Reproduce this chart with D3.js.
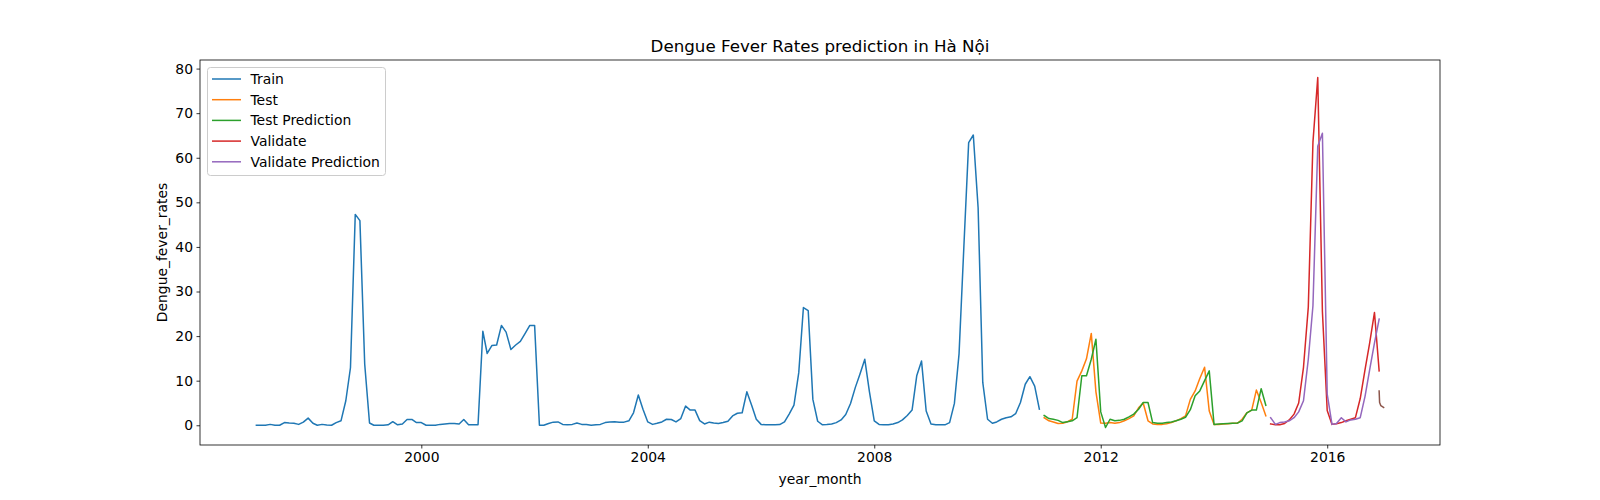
<!DOCTYPE html>
<html>
<head>
<meta charset="utf-8">
<script src="https://cdn.jsdelivr.net/npm/d3@7"></script>
<style>
  body { margin: 0; background: #fff; }
  svg { display: block; font-family: "DejaVu Sans", sans-serif; }
</style>
</head>
<body>
<script>
// monthly series (first month of each block)
const trainStart = new Date(1997, 1, 1);
const testStart = new Date(2011, 0, 1);
const validateStart = new Date(2015, 0, 1);

const trainValues = [
  0, 0, 0, 0.2, 0, 0, 0.6, 0.5, 0.45, 0.2, 0.7, 1.6, 0.45, 0, 0.2, 0.05, 0, 0.6, 1.0, 5.5, 12.9,
  47.3, 45.9, 13.7,
  0.5, 0, 0, 0, 0.1, 0.8, 0.1, 0.3, 1.3, 1.3, 0.6, 0.6, 0, 0, 0, 0.2, 0.3, 0.4, 0.4, 0.3, 1.3, 0.1, 0.1, 0.1,
  21.1, 16.1, 17.9, 18.0, 22.4, 20.9, 17.0, 18.0, 18.8, 20.6, 22.4, 22.4,
  0, 0, 0.4, 0.7, 0.75, 0.2, 0.1, 0.2, 0.5, 0.2, 0.15, 0, 0.1, 0.2, 0.6, 0.75, 0.8, 0.7, 0.7, 1.0,
  2.8, 6.8, 3.6, 0.75, 0.2, 0.45, 0.75, 1.35, 1.3, 0.75,
  1.5, 4.3, 3.4, 3.4, 1.05, 0.3, 0.7, 0.5, 0.4, 0.6,
  0.9, 2.1, 2.7, 2.8, 7.5, 4.5, 1.35, 0.2, 0.1, 0.1,
  0.1, 0.15, 0.75, 2.5, 4.5, 11.8, 26.4, 25.7, 5.8, 0.9,
  0.1, 0.15, 0.3, 0.6, 1.2, 2.4, 4.9, 8.5, 11.5, 14.8,
  7.5, 1.0, 0.2, 0.1, 0.1, 0.3, 0.6, 1.2, 2.2, 3.4,
  11.1, 14.4, 3.2, 0.3, 0.1, 0.1, 0.1, 0.6, 4.9, 16.0,
  40.0, 63.4, 65.1, 48.8, 9.6, 1.35, 0.45, 0.75, 1.35, 1.7,
  1.9, 2.6, 5.1, 9.2, 10.9, 8.8, 3.6
];

const testValues = [
  1.7, 1.0, 0.75, 0.4, 0.45, 0.8, 1.35, 9.9, 12.2, 14.9,
  20.6, 7.5, 0.5, 0.45, 0.6, 0.45, 0.6, 1.0, 1.5, 2.1,
  3.9, 5.0, 1.0, 0.3, 0.2, 0.2, 0.35, 0.6, 1.0, 1.5,
  2.1, 5.8, 7.7, 10.5, 13.0, 3.2, 0.2, 0.2, 0.3, 0.35,
  0.45, 0.45, 1.35, 2.8, 3.4, 7.9, 5.1, 2.1
];

const testPredValues = [
  2.2, 1.5, 1.35, 1.1, 0.6, 0.8, 1.0, 1.7, 11.1, 11.1,
  14.8, 19.3, 3.0, -0.5, 1.35, 1.0, 1.1, 1.35, 1.9, 2.5,
  3.6, 5.1, 5.1, 0.6, 0.45, 0.45, 0.6, 0.75, 1.0, 1.35,
  1.8, 3.5, 6.6, 7.7, 10.0, 12.2, 0.2, 0.3, 0.35, 0.4,
  0.45, 0.5, 1.0, 2.8, 3.4, 3.4, 8.2, 4.5
];

const validateValues = [
  0.3, 0.1, 0.1, 0.4, 1.2, 2.5, 5.0, 13.0, 26.5, 63.5,
  78.0, 25.5, 3.3, 0.2, 0.35, 0.6, 1.0, 1.35, 1.7, 6.0,
  12.5, 18.5, 25.3, 12.2
];

const validatePredValues = [
  1.7, 0.2, 0.6, 0.75, 1.0, 1.7, 3.0, 5.5, 14.8, 26.8,
  62.6, 65.5, 7.0, 0.2, 0.4, 1.7, 0.75, 1.2, 1.35, 1.7,
  6.5, 12.5, 18.5, 23.8
];

// short unlabeled tail after the validation period
const extraDates = ['2016-12-01', '2016-12-04', '2016-12-12', '2016-12-30'];
const extraValues = [7.7, 5.1, 4.4, 4.0];

const xTickYears = [2000, 2004, 2008, 2012, 2016];
const yTicks = [0, 10, 20, 30, 40, 50, 60, 70, 80];

const monthly = (start, values) =>
  values.map((v, i) => ({ date: d3.timeMonth.offset(start, i), value: v }));

const series = [
  { name: 'Train', color: '#1f77b4', data: monthly(trainStart, trainValues) },
  { name: 'Test', color: '#ff7f0e', data: monthly(testStart, testValues) },
  { name: 'Test Prediction', color: '#2ca02c', data: monthly(testStart, testPredValues) },
  { name: 'Validate', color: '#d62728', data: monthly(validateStart, validateValues) },
  { name: 'Validate Prediction', color: '#9467bd', data: monthly(validateStart, validatePredValues) },
  {
    name: null, color: '#8c564b',
    data: extraDates.map((d, i) => ({ date: d3.timeParse('%Y-%m-%d')(d), value: extraValues[i] }))
  }
];

const w = 1600, h = 500;
const plotLeft = 200, plotRight = 1440, plotTop = 60, plotBottom = 445;

const all = series.flatMap((s) => s.data);
const [t0, t1] = d3.extent(all, (d) => d.date);
const tPad = (t1 - t0) * 0.05;
const [v0, v1] = d3.extent(all, (d) => d.value);
const vPad = (v1 - v0) * 0.05;

const x = d3.scaleTime()
  .domain([new Date(+t0 - tPad), new Date(+t1 + tPad)])
  .range([plotLeft, plotRight]);
const y = d3.scaleLinear()
  .domain([v0 - vPad, v1 + vPad])
  .range([plotBottom, plotTop]);

const svg = d3.select('body').append('svg')
  .attr('width', w)
  .attr('height', h);

const line = d3.line()
  .x((d) => x(d.date))
  .y((d) => y(d.value));

svg.append('defs').append('clipPath').attr('id', 'clip')
  .append('rect')
  .attr('x', plotLeft).attr('y', plotTop)
  .attr('width', plotRight - plotLeft).attr('height', plotBottom - plotTop);

svg.append('g')
  .attr('clip-path', 'url(#clip)')
  .selectAll('path')
  .data(series)
  .enter()
  .append('path')
  .attr('d', (s) => line(s.data))
  .attr('fill', 'none')
  .attr('stroke', (s) => s.color)
  .attr('stroke-width', 1.5)
  .attr('stroke-linejoin', 'round')
  .attr('stroke-linecap', 'square');

// axes
const xAxis = svg.append('g')
  .attr('transform', `translate(0,${plotBottom})`)
  .call(d3.axisBottom(x)
    .tickValues(xTickYears.map((yr) => new Date(yr, 0, 1)))
    .tickFormat(d3.timeFormat('%Y'))
    .tickSize(3.5)
    .tickPadding(3.5)
    .tickSizeOuter(0));

const yAxis = svg.append('g')
  .attr('transform', `translate(${plotLeft},0)`)
  .call(d3.axisLeft(y)
    .tickValues(yTicks)
    .tickSize(3.5)
    .tickPadding(3.5)
    .tickSizeOuter(0));

[xAxis, yAxis].forEach((g) => {
  g.select('.domain').remove();
  g.attr('font-family', '"DejaVu Sans", sans-serif').attr('font-size', 13.9);
  g.selectAll('.tick line').attr('stroke', '#000').attr('stroke-width', 0.8);
  g.selectAll('.tick text').attr('fill', '#000');
});

svg.append('rect')
  .attr('x', plotLeft).attr('y', plotTop)
  .attr('width', plotRight - plotLeft).attr('height', plotBottom - plotTop)
  .attr('fill', 'none')
  .attr('stroke', '#000')
  .attr('stroke-width', 0.8);

// titles
svg.append('text')
  .attr('x', (plotLeft + plotRight) / 2)
  .attr('y', 51.7)
  .attr('text-anchor', 'middle')
  .attr('font-size', 16.7)
  .text('Dengue Fever Rates prediction in Hà Nội');

svg.append('text')
  .attr('x', (plotLeft + plotRight) / 2)
  .attr('y', 484)
  .attr('text-anchor', 'middle')
  .attr('font-size', 13.9)
  .text('year_month');

svg.append('text')
  .attr('transform', `translate(166.5,${(plotTop + plotBottom) / 2}) rotate(-90)`)
  .attr('text-anchor', 'middle')
  .attr('font-size', 13.9)
  .text('Dengue_fever_rates');

// legend
const legendItems = series.filter((s) => s.name);
const legend = svg.append('g');
legend.append('rect')
  .attr('x', 207.5).attr('y', 67.5)
  .attr('width', 178).attr('height', 108)
  .attr('rx', 3)
  .attr('fill', '#fff')
  .attr('fill-opacity', 0.8)
  .attr('stroke', '#cccccc')
  .attr('stroke-width', 1);

const rows = legend.selectAll('g.item')
  .data(legendItems)
  .enter()
  .append('g')
  .attr('class', 'item')
  .attr('transform', (d, i) => `translate(0,${79 + i * 20.7})`);

rows.append('line')
  .attr('x1', 212).attr('x2', 241)
  .attr('stroke', (d) => d.color)
  .attr('stroke-width', 1.5);

rows.append('text')
  .attr('x', 250.5)
  .attr('y', 5)
  .attr('font-size', 13.9)
  .text((d) => d.name);
</script>
</body>
</html>
